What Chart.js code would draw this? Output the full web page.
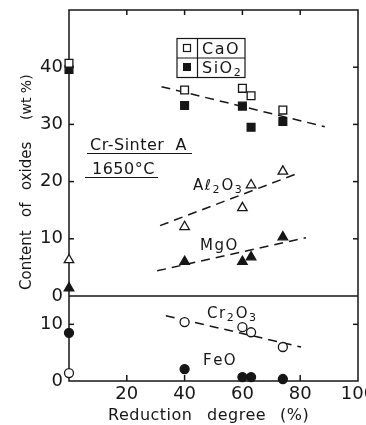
<!DOCTYPE html>
<html>
<head>
<meta charset="utf-8">
<script src="https://cdn.jsdelivr.net/npm/chart.js@4.4.1/dist/chart.umd.min.js"></script>
<style>
  html, body { margin: 0; padding: 0; background: #fff; }
</style>
</head>
<body>
<canvas id="chart" width="366" height="425"></canvas>
<script>
// reduction degree (%) of the samples
const reduction = [0, 40, 60, 63, 74];

// upper panel, wt %
const caO   = [40.7, 36.0, 36.3, 35.0, 32.5];
const siO2  = [39.6, 33.3, 33.2, 29.5, 30.5];
const al2O3 = [6.3, 12.1, 15.4, 19.4, 21.8];
const mgO   = [1.4, 6.0, 6.0, 6.8, 10.3];

// lower panel, wt %
const cr2O3 = [1.4, 10.4, 9.5, 8.6, 6.0];
const feO   = [8.5, 2.1, 0.7, 0.7, 0.35];

// dashed trend lines, [start, end] as reduction / content pairs
const trendCaOX   = [32, 88.5];
const trendCaOY   = [36.6, 29.6];
const trendAl2O3X = [31.5, 80];
const trendAl2O3Y = [12.3, 21.6];
const trendMgOX   = [30.5, 82];
const trendMgOY   = [4.4, 10.2];
const trendCr2O3X = [33.5, 80.3];
const trendCr2O3Y = [11.5, 6.0];

// tick labels
const xTicks = [20, 40, 60, 80, 100];
const upperTicks = [0, 10, 20, 30, 40];
const lowerTicks = [0, 10];

const INK = '#161616';
const FONT = '"DejaVu Sans", sans-serif';

const pts = (xs, ys) => xs.map((x, i) => ({x: x, y: ys[i]}));

function marks(label, values, axis, style, filled, radius) {
    return {
        label: label,
        data: pts(reduction, values),
        yAxisID: axis,
        pointStyle: style,
        pointRadius: radius,
        pointBackgroundColor: filled ? INK : '#fff',
        pointBorderColor: INK,
        pointBorderWidth: 1.3,
        showLine: false,
        clip: false,
    };
}

function trend(xs, ys, axis) {
    return {
        data: pts(xs, ys),
        yAxisID: axis,
        showLine: true,
        borderColor: INK,
        borderWidth: 1.5,
        borderDash: [9, 6],
        pointRadius: 0,
        clip: false,
    };
}

// draws text with digits as subscripts, e.g. 'Cr2O3'
function chem(ctx, text, x, y, size) {
    for (const ch of text) {
        const sub = /[0-9]/.test(ch);
        ctx.font = (sub ? Math.round(size * 0.7) : size) + 'px ' + FONT;
        ctx.fillText(ch, x, sub ? y + 3 : y);
        x += ctx.measureText(ch).width + (sub ? 2 : 1.5);
    }
}

function line(ctx, x1, y1, x2, y2) {
    ctx.beginPath();
    ctx.moveTo(x1, y1);
    ctx.lineTo(x2, y2);
    ctx.stroke();
}

// frame, panel divider and inward tick marks
const framePlugin = {
    id: 'frame',
    beforeDatasetsDraw(chart) {
        const {ctx, chartArea: a, scales} = chart;
        ctx.save();
        ctx.strokeStyle = INK;
        ctx.lineWidth = 1.5;
        ctx.strokeRect(a.left, a.top, a.right - a.left, a.bottom - a.top);
        const yz = scales.y.getPixelForValue(0);
        line(ctx, a.left, yz, a.right, yz);
        xTicks.filter(v => v < 100).forEach(v => {
            const px = scales.x.getPixelForValue(v);
            line(ctx, px, a.top, px, a.top + 5);
            line(ctx, px, a.bottom, px, a.bottom - 6);
        });
        upperTicks.filter(v => v > 0).forEach(v => {
            const py = scales.y.getPixelForValue(v);
            line(ctx, a.left, py, a.left + 5, py);
            line(ctx, a.right, py, a.right - 5, py);
        });
        lowerTicks.filter(v => v > 0).forEach(v => {
            const py = scales.y2.getPixelForValue(v);
            line(ctx, a.left, py, a.left + 5, py);
            line(ctx, a.right, py, a.right - 5, py);
        });
        ctx.restore();
    }
};

// titles, labels and the legend box
const textPlugin = {
    id: 'texts',
    afterDraw(chart) {
        const ctx = chart.ctx;
        ctx.save();
        ctx.fillStyle = INK;
        ctx.strokeStyle = INK;
        ctx.textAlign = 'left';
        ctx.textBaseline = 'alphabetic';

        // x title
        ctx.font = '16px ' + FONT;
        ctx.letterSpacing = '0.5px';
        ctx.fillText('Reduction', 108, 420);
        ctx.fillText('degree', 207, 420);
        ctx.fillText('(%)', 280, 420);

        // y title
        ctx.save();
        ctx.translate(31, 290);
        ctx.rotate(-Math.PI / 2);
        ctx.font = '15px ' + FONT;
        ctx.letterSpacing = '0px';
        ctx.fillText('Content', 0, 0);
        ctx.fillText('of', 73, 0);
        ctx.fillText('oxides', 100, 0);
        ctx.font = '14px ' + FONT;
        ctx.fillText('(wt %)', 170, 0);
        ctx.restore();

        // sample note
        ctx.font = '16px ' + FONT;
        ctx.letterSpacing = '0.5px';
        ctx.fillText('Cr-Sinter  A', 90, 150);
        ctx.fillText('1650°C', 92, 174);
        ctx.letterSpacing = '0px';
        ctx.lineWidth = 1.2;
        line(ctx, 87, 153.5, 192, 153.5);
        line(ctx, 85, 177.5, 158, 177.5);

        // oxide labels
        chem(ctx, 'Aℓ2O3', 193, 190, 15);
        chem(ctx, 'MgO', 200, 250, 15);
        chem(ctx, 'Cr2O3', 207, 318, 15);
        chem(ctx, 'FeO', 203, 365, 15);

        // legend box
        ctx.lineWidth = 1.2;
        ctx.strokeRect(177, 38.5, 68, 39);
        line(ctx, 177, 58, 245, 58);
        line(ctx, 197.5, 38.5, 197.5, 77.5);
        ctx.fillStyle = '#fff';
        ctx.fillRect(183.5, 44.5, 7, 7);
        ctx.strokeRect(183.5, 44.5, 7, 7);
        ctx.fillStyle = INK;
        ctx.fillRect(183, 63, 8, 8);
        chem(ctx, 'CaO', 202, 54, 16);
        chem(ctx, 'SiO2', 202, 73, 16);
        ctx.restore();
    }
};

function fixTicks(values) {
    return scale => { scale.ticks = values.map(v => ({value: v})); };
}

const tickFont = {family: FONT, size: 18};

new Chart(document.getElementById('chart'), {
    type: 'scatter',
    data: {
        datasets: [
            marks('CaO', caO, 'y', 'rect', false, 5.5),
            marks('SiO2', siO2, 'y', 'rect', true, 5.5),
            marks('Al2O3', al2O3, 'y', 'triangle', false, 5.5),
            marks('MgO', mgO, 'y', 'triangle', true, 5.5),
            marks('Cr2O3', cr2O3, 'y2', 'circle', false, 4.5),
            marks('FeO', feO, 'y2', 'circle', true, 4.5),
            trend(trendCaOX, trendCaOY, 'y'),
            trend(trendAl2O3X, trendAl2O3Y, 'y'),
            trend(trendMgOX, trendMgOY, 'y'),
            trend(trendCr2O3X, trendCr2O3Y, 'y2'),
        ]
    },
    options: {
        responsive: false,
        animation: false,
        devicePixelRatio: 1,
        layout: {padding: {top: 10, right: 8, left: 0, bottom: 0}},
        plugins: {legend: {display: false}, tooltip: {enabled: false}},
        scales: {
            x: {
                type: 'linear', position: 'bottom', min: 0, max: 100,
                afterBuildTicks: fixTicks(xTicks),
                afterFit: s => { s.height = 44; s.paddingLeft = 0; s.paddingRight = 0; },
                ticks: {font: tickFont, color: INK, padding: 3, maxRotation: 0, autoSkip: false},
                grid: {display: false, drawTicks: false},
                border: {display: false},
            },
            // left stacks are placed in reverse order, so the lower panel comes first
            y2: {
                type: 'linear', position: 'left', stack: 'panels', stackWeight: 85,
                min: 0, max: 15,
                afterBuildTicks: fixTicks(lowerTicks),
                afterFit: s => { s.width = 69; s.paddingTop = 0; s.paddingBottom = 0; },
                ticks: {font: tickFont, color: INK, padding: 6},
                grid: {display: false, drawTicks: false},
                border: {display: false},
            },
            y: {
                type: 'linear', position: 'left', stack: 'panels', stackWeight: 286,
                min: 0, max: 50,
                afterBuildTicks: fixTicks(upperTicks),
                afterFit: s => { s.width = 69; s.paddingTop = 0; s.paddingBottom = 0; },
                ticks: {font: tickFont, color: INK, padding: 6},
                grid: {display: false, drawTicks: false},
                border: {display: false},
            },
        }
    },
    plugins: [framePlugin, textPlugin]
});
</script>
</body>
</html>
